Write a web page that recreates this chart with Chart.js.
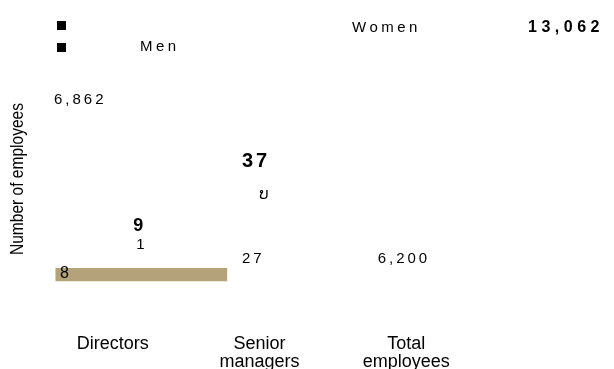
<!DOCTYPE html>
<html>
<head>
<meta charset="utf-8">
<script src="https://cdn.jsdelivr.net/npm/chart.js@4.4.0/dist/chart.umd.min.js"></script>
<style>
  html, body { margin: 0; padding: 0; background: #fff; }
  #wrap { position: relative; width: 614px; height: 369px; }
</style>
</head>
<body>
<div id="wrap"><canvas id="chart" width="614" height="369"></canvas></div>
<script>
// data
const categories = ['Directors', ['Senior', 'managers'], ['Total', 'employees']];
const women = [1, 10, 6862];
const men = [8, 27, 6200];
const totals = [9, 37, 13062];
// only the directors' bar made it into the picture
const barShown = [true, false, false];

const tan = '#b3a27a';
const fmt = (v) => v.toLocaleString('en-US');

// free text drawn over the chart
const textPlugin = {
  id: 'texts',
  afterDraw(chart) {
    const ctx = chart.ctx;
    const x = chart.scales.x;
    const area = chart.chartArea;
    const cx = (i) => x.getPixelForValue(i);

    const put = (str, px, py, font, spacing, align) => {
      ctx.save();
      ctx.font = font;
      ctx.letterSpacing = (spacing || 0) + 'px';
      ctx.fillStyle = '#000';
      ctx.textAlign = align || 'left';
      ctx.textBaseline = 'middle';
      ctx.fillText(str, px, py);
      ctx.restore();
    };

    const reg = '15px "Liberation Sans", Arial, sans-serif';

    // legend
    ctx.save();
    ctx.fillStyle = '#000';
    ctx.fillRect(57, 21, 9, 9);
    ctx.fillRect(57, 43, 9, 9);
    ctx.restore();
    put('Women', 352, 28, reg, 3.5);
    put('Men', 140, 47, reg, 3.5);
    put(fmt(totals[2]), 528, 28, 'bold 16px "Liberation Sans", Arial, sans-serif', 4.5);

    // values
    put(fmt(women[2]), area.left - 14, 100, reg, 3);
    put(fmt(totals[0]), cx(0) - 3, 226, 'bold 18px "Liberation Sans", Arial, sans-serif', 0, 'center');
    put(fmt(women[0]), cx(0) - 1, 245, reg, 0, 'center');
    put(fmt(men[0]), area.left - 8, 274, '16px "Liberation Sans", Arial, sans-serif', 0);
    put(fmt(totals[1]), cx(1) - 46, 161, 'bold 20px "Liberation Sans", Arial, sans-serif', 3);
    put('\u0E9A', cx(1) - 24, 195, '15px "DejaVu Sans", sans-serif', 0, 'center');
    put(fmt(men[1]), cx(1) - 46, 259, reg, 3);
    put(fmt(men[2]), cx(2) - 57, 259, reg, 3);

    // y axis title, squeezed
    ctx.save();
    ctx.translate(18, 179);
    ctx.rotate(-Math.PI / 2);
    ctx.font = '18px "Liberation Sans", Arial, sans-serif';
    const w = ctx.measureText('Number of employees').width;
    ctx.scale(152 / w, 1);
    ctx.fillStyle = '#000';
    ctx.textAlign = 'center';
    ctx.textBaseline = 'middle';
    ctx.fillText('Number of employees', 0, 0);
    ctx.restore();
  }
};

new Chart(document.getElementById('chart'), {
  type: 'bar',
  data: {
    labels: categories,
    datasets: [
      {
        label: 'Men',
        data: men.map((v, i) => (barShown[i] ? v : null)),
        backgroundColor: tan,
        barThickness: 171,
        clip: false,
      },
    ],
  },
  options: {
    responsive: false,
    animation: false,
    layout: { padding: { left: 68, right: 106, top: 78, bottom: 0 } },
    scales: {
      x: {
        grid: { display: false, drawTicks: false, tickLength: 0 },
        border: { display: false },
        ticks: {
          color: '#000',
          font: { family: '"Liberation Sans", Arial, sans-serif', size: 18, lineHeight: 1.0 },
          padding: 54,
          labelOffset: -28.5,
          maxRotation: 0,
          autoSkip: false,
        },
        afterFit: (scale) => { scale.height = 88; },
      },
      y: { display: false, min: 0, max: 128 },
    },
    plugins: {
      legend: { display: false },
      tooltip: { enabled: false },
    },
  },
  plugins: [textPlugin],
});
</script>
</body>
</html>
